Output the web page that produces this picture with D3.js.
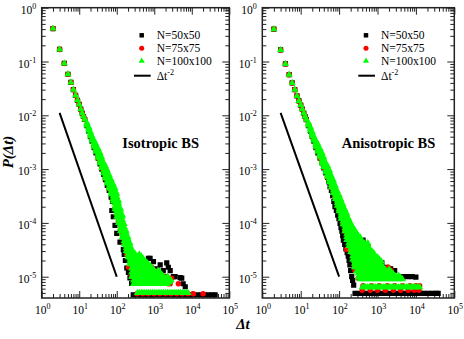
<!DOCTYPE html>
<html>
<head>
<meta charset="utf-8">
<script src="https://cdn.jsdelivr.net/npm/d3@7"></script>
<style>
  body { margin: 0; background: #fff; }
  text { font-family: "Liberation Serif", "Times New Roman", serif; }
</style>
</head>
<body>
<div id="chart"></div>
<script>
// ---- data: P(dt) for three lattice sizes ----
// rows are [dt, P, P, ...] : several probabilities seen at about the same dt

const seriesNames = ["N=50x50", "N=75x75", "N=100x100"];

// Isotropic BS (left panel)
// short times: the three sizes lie on top of each other
const isoHead = [[2,.41],[3,.168],[4,.092],[5,.058],[6,.041],[7,.030],[8,.0235],[9,.019],[10,.016],[11,.013],[12,.011],[13,.0095],[14,.0084]];

const isoBlack = [
  [16,.0064],[18,.0051],[20,.004],[22,.0033],[25,.0025],[28,.002],[32,.0016],[36,.00125],[40,.001],[45,.0008],[50,.00064],[56,.0005],[63,.0004],[71,.0003],[77,.00025],
  [74,.00017],[81,.00013],[90,.00009],[100,.000064],[122,.000044],[150,.000032],[158,.000026],[170,.00002],[185,.0000145],[205,.000012],[225,.0000095],[250,.0000075],
  [700,.000022],[773,.000022],[950,.000019],[1170,.000014],[1200,.0000116],[1440,.0000166],[1740,.000013],[1760,.00001],[2150,.000018],[2370,.000015],[2660,.000013],[3230,.00001],[3600,.00001],[4900,.0000096],[5400,.0000094],[5900,.0000074],[6700,.0000065]
];
const isoBlackFloor = [275,350,450,560,700,900,1100,1400,1800,2200,2800,3500,4500,5600,7000,9000,11000,14000,18000,22000,28000,35000,42000];
const isoBlackFloorP = 4.6e-6;

const isoRed = [
  [16,.0066],[20,.0041],[25,.0026],[32,.0016],[40,.00104],[50,.00067],[63,.00043],[80,.00026],[90,.00019],[100,.00014],[112,.00011],[126,.000075],[141,.00006],[158,.000042],[185,.000026],[205,.000015],[250,.00001],
  [500,.000018],[773,.000015],[850,.000015],[1000,.000013],[1440,.00001],[1600,.0000107],[2150,.00001],[2360,.0000074],[2650,.0000074],[2900,.0000094],[4400,.0000074]
];
const isoRedFloor = [350,500,700,1000,1400,2000,2800,4000,5600,7900,11000,20000];
const isoRedFloorP = 4.8e-6;

const isoGreen = [
  [16,.0065,.0069,.0073],[18,.0052,.0056,.006],[20,.0041,.0045,.0049],[22,.0034,.0037,.0041],[25,.0026,.0028,.003,.0032,.0034],[28,.0021,.0023,.0025,.0027,.0029],
  [32,.00165,.0018,.002,.0022,.0024],[36,.0013,.00145,.0016,.0018,.002],[40,.00105,.00118,.00132,.00148,.00165],[45,.00085,.00095,.00105,.00117,.0013],
  [50,.00068,.00075,.00082,.0009,.00098,.00106,.00115],[56,.00055,.0006,.00067,.00073,.0008,.00087,.00095],[63,.00044,.00049,.00054,.00059,.00065,.00071,.00078],
  [71,.00034,.00038,.00042,.00047,.00052,.00058,.00064],[80,.00025,.00028,.00031,.00034,.00038,.00042,.00046,.0005,.00053],
  [90,.00018,.0002,.00023,.00026,.00029,.00032,.00036,.0004,.00044],[100,.00013,.00015,.00017,.00019,.00022,.00025,.00028,.00031,.00035],
  [112,.0001,.000115,.00013,.000145,.00016,.00018,.0002,.00023,.00026],[126,.00007,.00008,.00009,.0001,.000115,.00013,.00015,.00017,.000185],
  [141,.000055,.000062,.00007,.00008,.00009,.0001,.000115,.00013,.00014],[158,.00004,.000046,.000052,.000059,.000066,.000075,.000084,.000096],
  [178,.00003,.000034,.000038,.000043,.000048,.000054,.00006,.000066,.000072],[200,.000023,.000026,.000029,.000032,.000036,.00004,.000045,.00005,.000054],
  [225,.000017,.0000185,.00002,.000022,.000024,.000026,.000028,.000031,.000034,.000038,.000042],
  [250,.00001,.000012,.0000143,.000017,.00002,.000024,.000028,.000033],
  [280,.0000073,.0000085,.00001,.000012,.0000143,.000017,.00002,.000024,.000028],
  [315,.0000079,.0000092,.000011,.000013,.0000155,.0000185,.000022,.000026],
  [355,.000005,.0000073,.0000085,.00001,.000012,.0000143,.000017,.00002,.000024],
  [400,.000005,.0000079,.0000092,.000011,.000013,.0000155,.0000185,.000022,.000026],
  [450,.000005,.0000073,.0000085,.00001,.000012,.0000143,.000017,.00002,.000024],
  [500,.000005,.0000079,.0000092,.000011,.000013,.0000155,.0000185,.000022],
  [560,.000005,.0000073,.0000085,.00001,.000012,.0000143,.000017,.00002],
  [630,.000005,.0000079,.0000092,.000011,.000013,.0000155,.0000185],
  [710,.000005,.0000073,.0000085,.00001,.000012,.0000143,.000017],
  [800,.000005,.0000079,.0000092,.000011,.000013,.0000155],
  [890,.000005,.0000073,.0000085,.00001,.000012,.0000143],
  [1000,.000005,.0000079,.0000092,.000011,.000013],
  [1120,.000005,.0000073,.0000085,.00001,.000012],[1260,.000005,.0000079,.0000092,.000011,.000013],
  [1410,.000005,.0000073,.0000085,.00001,.000012],[1580,.000005,.0000079,.0000092,.000011],
  [1780,.000005,.0000073,.0000085,.00001],[2000,.000005,.0000079,.0000092],[2240,.000005,.0000073,.0000085,.00001],
  [2510,.000005,.0000079,.0000092],[2820,.000005,.0000085],[3160,.000005],
  [3550,.000005],[4000,.000005],[4470,.000005],[5000,.000005],[5620,.000005],[6300,.000005],[7080,.000005],[7900,.000005]
];

// Anisotropic BS (right panel)
const anisoHead = [[2,.40],[3,.164],[4,.09],[5,.057],[6,.04],[7,.03],[8,.023],[9,.0185],[10,.0155],[11,.013],[12,.011],[13,.0095],[14,.0083]];

const anisoBlack = [
  [16,.0064],[18,.0051],[20,.004],[22,.0033],[25,.0025],[28,.002],[32,.0016],[36,.0013],[40,.00105],[45,.00085],[50,.0007],[54,.00058],[58,.00047],[63,.0004],[68,.00032],[73,.00025],
  [78,.0002],[85,.00017],[92,.00014],[99,.00012],[106,.000098],[112,.000082],[118,.00007],[124,.000058],[129,.000048],[140,.00004],[150,.000033],[162,.000028],[173,.000024],
  [182,.00002],[191,.0000166],[200,.000013],[213,.00001],[225,.0000085],[240,.000007],
  [420,.000048],[480,.00004],[560,.000036],[770,.00002],[850,.000019],[950,.000018],[1000,.000017],[1300,.000018,.000011],[1500,.000013],[1700,.000015,.0000105],
  [2200,.000014,.00001],[2800,.000013],[2900,.00001],[3700,.00001],[4800,.00001],[6200,.00001],[8000,.00001],[10000,.0000098]
];
const anisoBlackFloor = [260,330,420,530,670,840,1060,1330,1680,2110,2660,3350,4200,5300,6700,8400,10600,13300,16800,21000,26500,33000,38000];
const anisoBlackFloorP = 4.9e-6;

const anisoRed = [
  [16,.0066],[20,.0041],[25,.0026],[32,.0016],[40,.00107],[50,.0007],[63,.00045],[78,.0003],[100,.00017],[126,.0001],[141,.00007],[158,.000032],[200,.000029],[260,.000013],[315,.0000094],
  [1900,.000015],[2250,.000013]
];
const anisoRedFloorTop = [420,700,1100,1800,2800,4500,7000,10000,12500];
const anisoRedFloorTopP = 6.8e-6;
const anisoRedFloorBottom = [400,650,1000,1600,2600,4000,6300,9000,12000];
const anisoRedFloorBottomP = 5.6e-6;

const anisoGreen = [
  [16,.0065,.0069,.0073],[18,.0052,.0056,.006],[20,.0041,.0045,.0049],[22,.0034,.0037,.0041],[25,.0026,.0028,.003,.0032,.0034],[28,.0021,.0023,.0025,.0027,.0029],
  [32,.0017,.00185,.002,.0022,.0024],[36,.0013,.00145,.0016,.0018,.002],[40,.0011,.00122,.00135,.0015,.00165],[45,.00088,.00098,.00108,.00118,.0013],
  [50,.00072,.0008,.00088,.00096,.00105,.00115],[56,.00058,.00064,.0007,.00077,.00084,.0009,.00095],[63,.00046,.00051,.00056,.00062,.00068,.00075],
  [71,.00036,.0004,.00044,.00049,.00054,.00058,.00062],[80,.00028,.00031,.00034,.00037,.00041,.00045,.00049],[90,.00021,.000235,.00026,.00029,.00032,.00035,.00039],
  [100,.000165,.00018,.0002,.00022,.000245,.00027,.00029,.00031,.00033],[112,.00012,.000135,.00015,.00017,.00019,.00021,.00023,.00025,.00027],
  [126,.000095,.000107,.00012,.000135,.00015,.000167,.000185,.0002,.00022],[141,.00007,.00008,.00009,.0001,.000112,.000125,.00014,.00016,.00018],
  [158,.000048,.000055,.000062,.00007,.00008,.00009,.0001,.000112,.000125,.000137,.00015],
  [178,.000037,.000042,.000048,.000055,.000062,.00007,.00008,.00009,.0001,.00011,.00012],
  [200,.000029,.000033,.000038,.000044,.00005,.000057,.000065,.000073,.000082,.00009,.0001],
  [225,.000021,.000024,.000028,.000032,.000037,.000042,.000048,.000055,.000062,.00007,.000078,.000085],
  [251,.000015,.0000175,.00002,.000023,.000026,.00003,.000034,.000039,.000044,.00005,.000058,.000066,.000075],
  [282,.0000125,.000015,.0000175,.000021,.000025,.00003,.000036,.000044,.000055,.000066],
  [316,.0000097,.0000115,.0000137,.0000162,.0000192,.000023,.0000275,.000033,.00004,.000049,.000058],
  [355,.000009,.0000105,.0000125,.000015,.0000175,.000021,.000025,.00003,.000036,.000044,.000054],
  [400,.0000064,.0000097,.0000115,.0000137,.0000162,.0000192,.000023,.0000275,.000033,.00004,.000046],
  [450,.0000064,.000009,.0000105,.0000125,.000015,.0000175,.000021,.000025,.00003,.000036,.000042],
  [500,.0000064,.0000097,.0000115,.0000137,.0000162,.0000192,.000023,.0000275,.000033,.00004],
  [560,.0000064,.000009,.0000105,.0000125,.000015,.0000175,.000021,.000025,.00003,.000036,.000042],
  [630,.0000064,.0000097,.0000115,.0000137,.0000162,.0000192,.000023,.0000275,.000033],
  [710,.0000064,.000009,.0000105,.0000125,.000015,.0000175,.000021,.000025,.00003],
  [800,.0000064,.0000097,.0000115,.0000137,.0000162,.0000192,.000023,.0000275],
  [890,.0000064,.000009,.0000105,.0000125,.000015,.0000175,.000021,.000024],
  [1000,.0000064,.0000097,.0000115,.0000137,.0000162,.0000192,.000023],
  [1120,.0000064,.000009,.0000105,.0000125,.000015,.0000175,.000021],
  [1260,.0000064,.0000097,.0000115,.0000137,.0000162,.0000192],
  [1410,.0000064,.000009,.0000105,.0000125,.000015],[1580,.0000064,.0000097,.0000115,.0000137],
  [1780,.0000064,.000009,.0000105,.0000125],[2000,.0000064,.0000097,.0000115,.0000137],[2240,.0000064,.000009,.0000105,.0000125],
  [2510,.0000064,.0000097,.0000115],[2820,.0000064,.000009,.0000105],[3160,.0000064,.0000097],[3550,.0000064,.000009,.0000105],
  [3980,.0000064,.0000097],[4470,.0000064,.000009],
  [5010,.0000064],[5620,.0000064],[6310,.0000064],[7080,.0000064],[7940,.0000064],[8900,.0000064],[10000,.0000064],[11200,.0000064],[12600,.0000064]
];

// guide line  P ~ dt^-2
const refDt = [3, 100];
const refP = [0.0111, 1e-5];

// axis decades
const xDecades = [0, 1, 2, 3, 4, 5];
const yDecades = [0, -1, -2, -3, -4, -5];

// ---- helpers ----
function expand(rows) {
  return rows.flatMap(r => r.slice(1).map(p => ({dt: r[0], p: p})));
}
function level(dts, p) {
  return dts.map(d => ({dt: d, p: p}));
}

const width = 464, height = 339;
const yTop = 7.7, yBot = 298;

const y = d3.scaleLog().domain([4.02e-6, 1]).range([yBot, yTop]);

const panels = [
  {
    x0: 41.7, x1: 229.3, title: "Isotropic BS", titleX: 122.3, legX: 141.7,
    black: expand(isoHead.concat(isoBlack)).concat(level(isoBlackFloor, isoBlackFloorP)),
    red: expand(isoHead.concat(isoRed)).concat(level(isoRedFloor, isoRedFloorP)),
    green: expand(isoHead.concat(isoGreen))
  },
  {
    x0: 262.3, x1: 454.3, title: "Anisotropic BS", titleX: 341.7, legX: 366,
    black: expand(anisoHead.concat(anisoBlack)).concat(level(anisoBlackFloor, anisoBlackFloorP)),
    red: expand(anisoHead.concat(anisoRed))
      .concat(level(anisoRedFloorTop, anisoRedFloorTopP))
      .concat(level(anisoRedFloorBottom, anisoRedFloorBottomP)),
    green: expand(anisoHead.concat(anisoGreen))
  }
];

const svg = d3.select("#chart").append("svg")
  .attr("width", width)
  .attr("height", height);

// data markers are a bit larger than the legend ones so the dense band closes up
const sqr = d3.symbol().type(d3.symbolSquare).size(27);
const circ = d3.symbol().type(d3.symbolCircle).size(24);
const tri = d3.symbol().type(d3.symbolTriangle).size(22);
const sqrLeg = d3.symbol().type(d3.symbolSquare).size(20);
const circLeg = d3.symbol().type(d3.symbolCircle).size(20);
const triLeg = d3.symbol().type(d3.symbolTriangle).size(16);

function supText(sel, exp, small) {
  sel.append("tspan").text("10");
  sel.append("tspan").attr("dy", -5).attr("font-size", small).text(exp);
}

panels.forEach((pn, i) => {
  let x = d3.scaleLog().domain([1, 1e5]).range([pn.x0, pn.x1]);
  let g = svg.append("g");

  let xMajor = xDecades.map(e => Math.pow(10, e));
  let xMinor = [];
  for (let e = 0; e < 5; e++) for (let k = 2; k <= 9; k++) xMinor.push(k * Math.pow(10, e));
  let yMajor = yDecades.map(e => Math.pow(10, e));
  let yMinor = [];
  for (let e = -6; e < 0; e++) for (let k = 2; k <= 9; k++) {
    let v = k * Math.pow(10, e);
    if (v >= y.domain()[0]) yMinor.push(v);
  }

  // ticks on all four sides, pointing inward
  [[xMajor, 7], [xMinor, 4]].forEach(([vals, len]) => {
    g.append("g").attr("transform", "translate(0," + yBot + ")")
      .call(d3.axisBottom(x).tickValues(vals).tickSize(-len).tickFormat(""))
      .call(a => a.select(".domain").remove());
    g.append("g").attr("transform", "translate(0," + yTop + ")")
      .call(d3.axisTop(x).tickValues(vals).tickSize(-len).tickFormat(""))
      .call(a => a.select(".domain").remove());
  });
  [[yMajor, 7], [yMinor, 4]].forEach(([vals, len]) => {
    g.append("g").attr("transform", "translate(" + pn.x0 + ",0)")
      .call(d3.axisLeft(y).tickValues(vals).tickSize(-len).tickFormat(""))
      .call(a => a.select(".domain").remove());
    g.append("g").attr("transform", "translate(" + pn.x1 + ",0)")
      .call(d3.axisRight(y).tickValues(vals).tickSize(-len).tickFormat(""))
      .call(a => a.select(".domain").remove());
  });
  g.selectAll(".tick line").attr("stroke", "#222").attr("stroke-width", 1);

  // tick labels 10^n
  xDecades.forEach(e => {
    let t = g.append("text")
      .attr("x", x(Math.pow(10, e)) + 1)
      .attr("y", 314)
      .attr("text-anchor", "middle")
      .attr("font-size", 11.5);
    supText(t, String(e), 8);
  });
  yDecades.forEach(e => {
    let t = g.append("text")
      .attr("x", pn.x0 - 5.5)
      .attr("y", y(Math.pow(10, e)) + 6)
      .attr("text-anchor", "end")
      .attr("font-size", 11.5);
    supText(t, e === 0 ? "0" : "-" + Math.abs(e), 8);
  });

  // clip
  svg.append("clipPath").attr("id", "clip" + i)
    .append("rect")
    .attr("x", pn.x0).attr("y", yTop)
    .attr("width", pn.x1 - pn.x0).attr("height", yBot - yTop);

  let plot = g.append("g").attr("clip-path", "url(#clip" + i + ")");

  // dt^-2 guide
  let line = d3.line().x(d => x(d[0])).y(d => y(d[1]));
  plot.append("path")
    .datum(refDt.map((d, j) => [d, refP[j]]))
    .attr("d", line)
    .attr("fill", "none")
    .attr("stroke", "#000")
    .attr("stroke-width", 2);

  plot.selectAll(".blk").data(pn.black).enter().append("path")
    .attr("d", sqr)
    .attr("transform", d => "translate(" + x(d.dt) + "," + y(d.p) + ")")
    .attr("fill", "#000");
  plot.selectAll(".rd").data(pn.red).enter().append("path")
    .attr("d", circ)
    .attr("transform", d => "translate(" + x(d.dt) + "," + y(d.p) + ")")
    .attr("fill", "#ff0000");
  plot.selectAll(".grn").data(pn.green).enter().append("path")
    .attr("d", tri)
    .attr("transform", d => "translate(" + x(d.dt) + "," + y(d.p) + ")")
    .attr("fill", "#00ff00");

  // frame
  g.append("rect")
    .attr("x", pn.x0).attr("y", yTop)
    .attr("width", pn.x1 - pn.x0).attr("height", yBot - yTop)
    .attr("fill", "none")
    .attr("stroke", "#222")
    .attr("stroke-width", 1.5);

  // legend
  const rows = [35.3, 48.3, 61.0];
  const shapes = [sqrLeg, circLeg, triLeg];
  const fills = ["#000", "#ff0000", "#00ff00"];
  seriesNames.forEach((name, j) => {
    g.append("path")
      .attr("d", shapes[j])
      .attr("transform", "translate(" + pn.legX + "," + rows[j] + ")")
      .attr("fill", fills[j]);
    g.append("text")
      .attr("x", pn.legX + 15)
      .attr("y", rows[j] + 4)
      .attr("font-size", 11.5)
      .text(name);
  });
  g.append("line")
    .attr("x1", pn.legX - 7.7).attr("x2", pn.legX + 9)
    .attr("y1", 75.7).attr("y2", 75.7)
    .attr("stroke", "#000").attr("stroke-width", 2);
  let lt = g.append("text")
    .attr("x", pn.legX + 15)
    .attr("y", 79.7)
    .attr("font-size", 11.5);
  lt.append("tspan").text("\u0394t");
  lt.append("tspan").attr("dy", -5).attr("font-size", 8).text("-2");

  // panel title
  g.append("text")
    .attr("x", pn.titleX)
    .attr("y", 147.5)
    .attr("font-size", 14.5)
    .attr("font-weight", "bold")
    .text(pn.title);
});

// axis titles
svg.append("text")
  .attr("x", 243)
  .attr("y", 329)
  .attr("text-anchor", "middle")
  .attr("font-size", 15)
  .attr("font-weight", "bold")
  .attr("font-style", "italic")
  .text("\u0394t");

svg.append("text")
  .attr("transform", "translate(12.5,152) rotate(-90)")
  .attr("text-anchor", "middle")
  .attr("font-size", 15)
  .attr("font-weight", "bold")
  .attr("font-style", "italic")
  .text("P(\u0394t)");
</script>
</body>
</html>
